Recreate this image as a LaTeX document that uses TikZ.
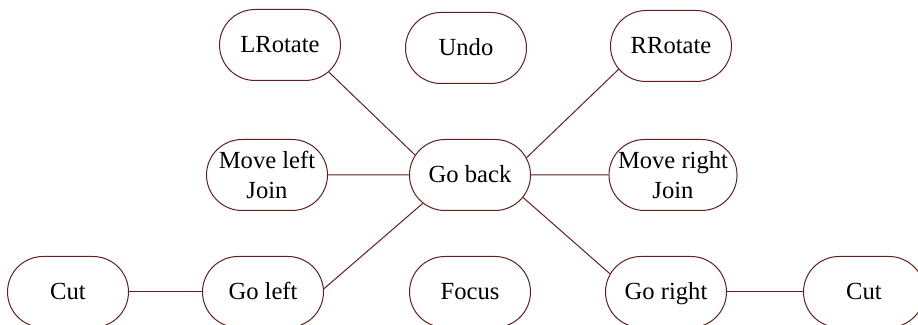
\documentclass[tikz,border=0pt]{standalone}
\usepackage{fontspec}
\setmainfont{Liberation Serif}
\usetikzlibrary{shapes.misc}
\definecolor{edgebrown}{RGB}{100,30,30}
\tikzset{
    cmd/.style={rounded rectangle, draw=edgebrown, line width=0.5pt,
        minimum width=60.5pt, minimum height=35.5pt, inner sep=0pt,
        align=center, font=\fontsize{12.3}{15}\selectfont},
    oneline/.style={cmd, text height=8pt, text depth=0pt},
    link/.style={draw=edgebrown, line width=0.5pt}
}
\begin{document}
\begin{tikzpicture}[x=0.5pt, y=-0.5pt]
    \useasboundingbox (0,0) rectangle (918,325);

    % Top row
    \node[oneline] (lrot) at (280, 45) {LRotate};
    \node[oneline] (undo) at (466, 48) {Undo};
    \node[oneline] (rrot) at (671, 46) {RRotate};

    % Middle row
    \node[cmd] (mleft) at (267, 175) {Move left\\Join};
    \node[oneline] (back) at (470, 175) {Go back};
    \node[cmd] (mright) at (673, 175) {Move right\\Join};

    % Bottom row
    \node[oneline] (cutl) at (68, 292) {Cut};
    \node[oneline] (gleft) at (263, 292) {Go left};
    \node[oneline] (focus) at (470, 292) {Focus};
    \node[oneline] (gright) at (666, 292) {Go right};
    \node[oneline] (cutr) at (864, 292) {Cut};

    % Connections from the centre
    \draw[link] (back.160) -- (lrot.-29);
    \draw[link] (back.17) -- (rrot.204);
    \draw[link] (back) -- (mleft);
    \draw[link] (back) -- (mright);
    \draw[link] (back.211) -- (gleft.3);
    \draw[link] (back.-23) -- (gright.162);

    % Outer pieces
    \draw[link] (cutl.east) -- (gleft.west);
    \draw[link] (gright.east) -- (cutr.west);
\end{tikzpicture}
\end{document}
